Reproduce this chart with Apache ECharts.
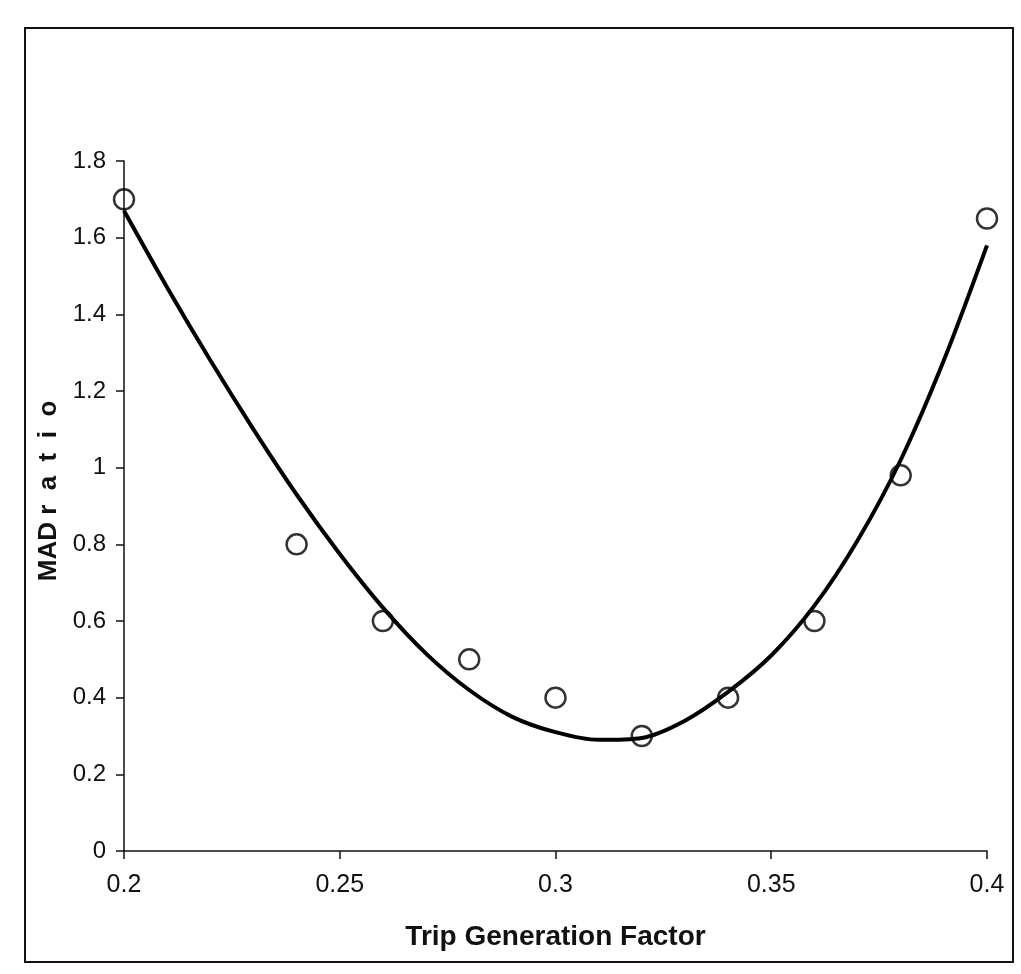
<!DOCTYPE html>
<html>
<head>
<meta charset="utf-8">
<title>MAD ratio vs Trip Generation Factor</title>
<script src="https://cdn.jsdelivr.net/npm/echarts@6/dist/echarts.min.js"></script>
<style>
	html, body {
		margin: 0;
		padding: 0;
		background: #fff;
	}
	#chart {
		width: 1021px;
		height: 974px;
	}
</style>
</head>
<body>
<div id="chart"></div>
<script>
	// observed points (open circles)
	const tgfObserved = [0.20, 0.24, 0.26, 0.28, 0.30, 0.32, 0.34, 0.36, 0.38, 0.40];
	const madObserved = [1.70, 0.80, 0.60, 0.50, 0.40, 0.30, 0.40, 0.60, 0.98, 1.65];

	// fitted curve
	const tgfFit = [0.20, 0.21, 0.22, 0.23, 0.24, 0.25, 0.26, 0.27, 0.28, 0.29, 0.30,
		0.31, 0.32, 0.33, 0.34, 0.35, 0.36, 0.37, 0.38, 0.39, 0.40];
	const madFit = [1.67, 1.47, 1.28, 1.10, 0.93, 0.775, 0.635, 0.515, 0.42, 0.35, 0.31,
		0.29, 0.295, 0.34, 0.415, 0.51, 0.64, 0.81, 1.02, 1.28, 1.58];

	const xTickLabels = ['0.2', '0.25', '0.3', '0.35', '0.4'];
	const yTickLabels = ['0', '0.2', '0.4', '0.6', '0.8', '1', '1.2', '1.4', '1.6', '1.8'];

	const chart = echarts.init(document.getElementById('chart'));

	const axisLine = { show: true, lineStyle: { color: '#111', width: 1.5 } };
	const axisTick = { show: true, inside: false, length: 8, lineStyle: { color: '#111', width: 1.5 } };

	chart.setOption({
		animation: false,
		backgroundColor: '#fff',
		grid: {
			left: 124,
			right: 34,
			top: 161,
			bottom: 123
		},
		xAxis: {
			type: 'value',
			min: 0.2,
			max: 0.4,
			interval: 0.05,
			name: 'Trip Generation Factor',
			nameLocation: 'middle',
			nameGap: 72,
			nameTextStyle: {
				fontFamily: 'Liberation Sans',
				fontWeight: 'bold',
				fontSize: 28,
				color: '#111'
			},
			axisLine: axisLine,
			axisTick: axisTick,
			splitLine: { show: false },
			axisLabel: {
				margin: 22,
				fontFamily: 'Liberation Sans',
				fontSize: 25,
				color: '#111',
				formatter: (v) => xTickLabels[Math.round((v - 0.2) / 0.05)]
			}
		},
		yAxis: {
			type: 'value',
			min: 0,
			max: 1.8,
			interval: 0.2,
			name: 'MAD r  a  t  i  o',
			nameLocation: 'middle',
			nameGap: 58,
			nameTextStyle: {
				fontFamily: 'Liberation Sans',
				fontWeight: 'bold',
				fontSize: 26,
				color: '#111',
				padding: [0, 0, 0, 30]
			},
			axisLine: axisLine,
			axisTick: axisTick,
			splitLine: { show: false },
			axisLabel: {
				margin: 18,
				fontFamily: 'Liberation Sans',
				fontSize: 24,
				color: '#111',
				formatter: (v) => yTickLabels[Math.round(v / 0.2)]
			}
		},
		graphic: [{
			// outer chart frame
			type: 'rect',
			shape: { x: 25, y: 28, width: 988, height: 934 },
			style: { fill: 'none', stroke: '#111', lineWidth: 2 },
			silent: true
		}],
		series: [{
			name: 'fit',
			type: 'line',
			data: tgfFit.map((x, i) => [x, madFit[i]]),
			showSymbol: false,
			smooth: 0.3,
			lineStyle: { color: '#000', width: 4 },
			z: 2
		}, {
			name: 'observed',
			type: 'scatter',
			data: tgfObserved.map((x, i) => [x, madObserved[i]]),
			symbol: 'circle',
			symbolSize: 20,
			itemStyle: {
				color: 'rgba(255,255,255,0)',
				borderColor: '#000',
				borderWidth: 2.5
			},
			z: 3
		}]
	});
</script>
</body>
</html>
